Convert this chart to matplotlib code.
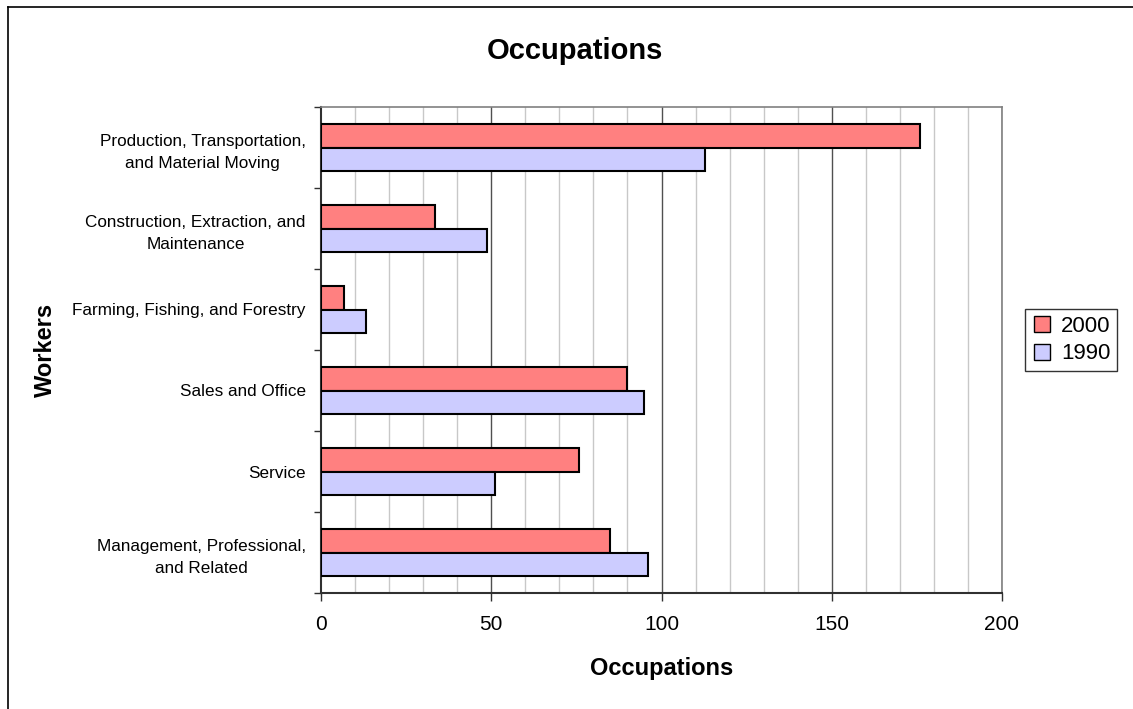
import matplotlib
matplotlib.use("Agg")
import matplotlib.pyplot as plt
from matplotlib.lines import Line2D
import numpy as np

plt.rcParams['font.family'] = ['Liberation Sans', 'DejaVu Sans']

categories = [
    "Management, Professional,\nand Related",
    "Service",
    "Sales and Office",
    "Farming, Fishing, and Forestry",
    "Construction, Extraction, and\nMaintenance",
    "Production, Transportation,\nand Material Moving",
]
years = ["2000", "1990"]
vals_2000 = [85, 75.7, 89.8, 6.9, 33.6, 176]
vals_1990 = [96, 51.1, 94.8, 13.1, 48.8, 112.7]
x_ticks = [0, 50, 100, 150, 200]

col_2000 = "#FF8080"
col_1990 = "#CCCCFF"

fig = plt.figure(figsize=(11.33, 7.09), dpi=100)
ax = fig.add_axes([321 / 1133, 1 - 593 / 709, (1002 - 321) / 1133, (593 - 107) / 709])

y = np.arange(len(categories))
h = 0.29
ax.barh(y + h / 2, vals_2000, height=h, color=col_2000, edgecolor="black", linewidth=1.5, label=years[0], zorder=3)
ax.barh(y - h / 2, vals_1990, height=h, color=col_1990, edgecolor="black", linewidth=1.5, label=years[1], zorder=3)

ax.set_xlim(0, 200)
ax.set_ylim(-0.5, len(categories) - 0.5)

# gridlines: light every 10, dark every 50
for g in range(10, 201, 10):
    if g % 50 == 0:
        ax.axvline(g, color="#505050", linewidth=1.0, zorder=1)
    else:
        ax.axvline(g, color="#C8C8C8", linewidth=1.0, zorder=1)

ax.set_xticks(x_ticks)
ax.set_xticklabels([str(t) for t in x_ticks], fontsize=15)
ax.set_yticks(y)
ax.set_yticklabels(categories, fontsize=12.3, ha="right", multialignment="center", linespacing=1.6)
ax.tick_params(axis="y", length=0, pad=11)
ax.set_yticks(np.arange(-0.5, len(categories), 1), minor=True)
ax.tick_params(axis="y", which="minor", length=5, width=1, color="#303030")
ax.tick_params(axis="x", length=6, width=1, color="#303030", pad=10)

for s in ["top", "right"]:
    ax.spines[s].set_color("#808080")
    ax.spines[s].set_linewidth(1.2)
for s in ["left", "bottom"]:
    ax.spines[s].set_color("#303030")
    ax.spines[s].set_linewidth(1.5)

fig.text(575 / 1133, 1 - 51 / 709, "Occupations", fontsize=21, fontweight="bold", ha="center", va="center")
fig.text(662 / 1133, 1 - 668 / 709, "Occupations", fontsize=17, fontweight="bold", ha="center", va="center")
fig.text(45 / 1133, 1 - 350 / 709, "Workers", fontsize=17, fontweight="bold", ha="center", va="center", rotation=90)

handles = [
    Line2D([], [], marker="s", linestyle="none", markersize=11, markerfacecolor=col_2000, markeredgecolor="black"),
    Line2D([], [], marker="s", linestyle="none", markersize=11, markerfacecolor=col_1990, markeredgecolor="black"),
]
leg = fig.legend(handles, years, loc="center", bbox_to_anchor=(1071 / 1133, 1 - 340 / 709), fontsize=16,
                 frameon=True, fancybox=False, edgecolor="black", handletextpad=0.35, borderpad=0.3,
                 labelspacing=0.3, handlelength=1.0, borderaxespad=0)
leg.get_frame().set_linewidth(1.0)

# outer chart frame
fig.add_artist(Line2D([8 / 1133, 8 / 1133], [0, 1 - 7 / 709], transform=fig.transFigure, color="black", linewidth=1.2))
fig.add_artist(Line2D([8 / 1133, 1], [1 - 7 / 709, 1 - 7 / 709], transform=fig.transFigure, color="black", linewidth=1.2))

fig.savefig("out.png", dpi=100)
